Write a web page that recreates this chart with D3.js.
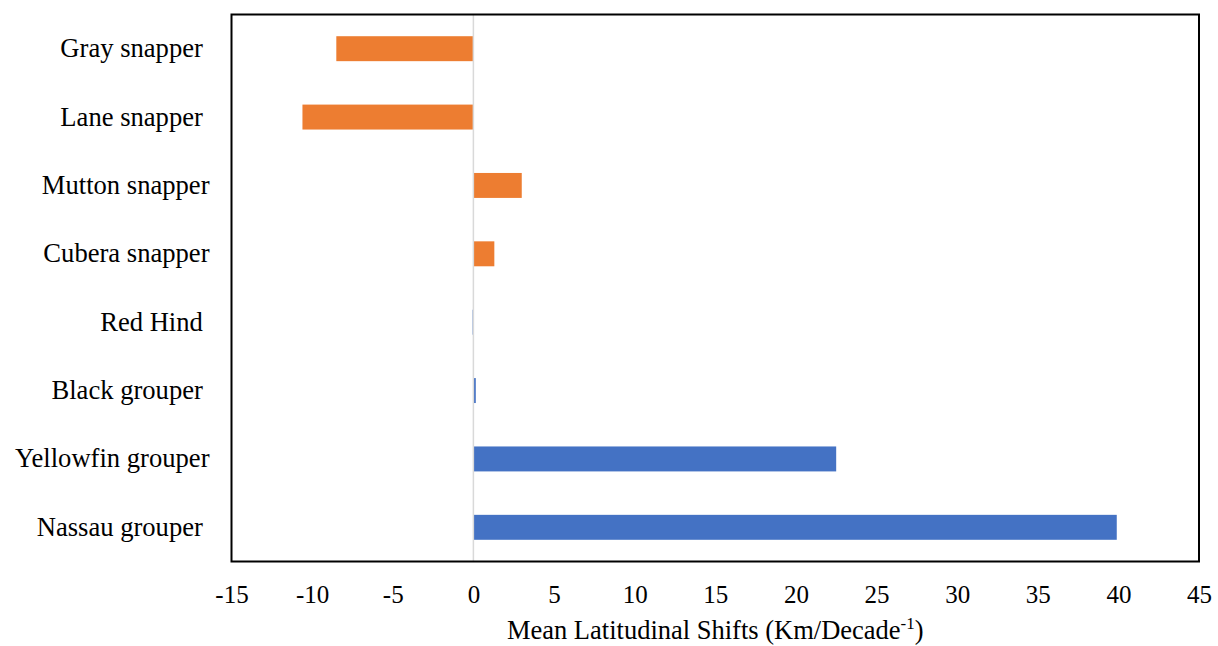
<!DOCTYPE html>
<html>
<head>
<meta charset="utf-8">
<script src="https://cdn.jsdelivr.net/npm/d3@7"></script>
<style>
  html, body { margin: 0; padding: 0; background: #fff; }
  svg text { font-family: "Liberation Serif", "Times New Roman", serif; fill: #000; white-space: pre; }
</style>
</head>
<body>
<svg id="chart" width="1218" height="646"></svg>
<script>
// Species (top to bottom); some Excel labels carry a trailing space
const species = ["Gray snapper ", "Lane snapper ", "Mutton snapper", "Cubera snapper",
                 "Red Hind ", "Black grouper ", "Yellowfin grouper", "Nassau grouper "];
// Mean latitudinal shift (km per decade)
const shifts = [-8.5, -10.6, 3.0, 1.3, -0.05, 0.15, 22.5, 39.9];
// Family of each species: snappers orange, groupers blue
const family = ["snapper", "snapper", "snapper", "snapper", "grouper", "grouper", "grouper", "grouper"];
const xTicks = [-15, -10, -5, 0, 5, 10, 15, 20, 25, 30, 35, 40, 45];
const xTitle = "Mean Latitudinal Shifts (Km/Decade";
const xTitleSup = "-1";

const colors = { snapper: "#ED7D31", grouper: "#4472C4" };

const svg = d3.select("#chart");
const box = { left: 231.5, right: 1199, top: 14.5, bottom: 561.5 };

const x = d3.scaleLinear().domain([-15, 45]).range([box.left, box.right]);
const y = d3.scaleBand().domain(species).range([box.top, box.bottom]).paddingInner(0.635).paddingOuter(0.3175);

// Bars
svg.append("g").selectAll("rect")
  .data(species.map((s, i) => ({ s, v: shifts[i], f: family[i] })))
  .join("rect")
  .attr("x", d => x(Math.min(0, d.v)))
  .attr("width", d => Math.abs(x(d.v) - x(0)))
  .attr("y", d => y(d.s))
  .attr("height", y.bandwidth())
  .attr("fill", d => colors[d.f]);

// Zero reference line
svg.append("line")
  .attr("x1", x(0)).attr("x2", x(0))
  .attr("y1", box.top).attr("y2", box.bottom)
  .attr("stroke", "#d9d9d9").attr("stroke-width", 1.5);

// Plot frame
svg.append("rect")
  .attr("x", box.left).attr("y", box.top)
  .attr("width", box.right - box.left).attr("height", box.bottom - box.top)
  .attr("fill", "none").attr("stroke", "#000").attr("stroke-width", 2);

// Category labels
const yAxis = d3.axisLeft(y).tickSize(0).tickPadding(22);
const gy = svg.append("g").attr("transform", `translate(${box.left},0)`).call(yAxis);
gy.select(".domain").remove();
gy.selectAll("text").attr("font-size", 26.6).attr("font-family", null).attr("dy", "0.32em");

// Value axis labels
const xAxis = d3.axisBottom(x).tickValues(xTicks).tickSize(0).tickPadding(24).tickFormat(d3.format("d"));
const gx = svg.append("g").attr("transform", `translate(0,${box.bottom})`).call(xAxis);
gx.select(".domain").remove();
gx.selectAll("text").attr("font-size", 25).attr("font-family", null).text(d => String(d));

// Axis title with superscript
const title = svg.append("text")
  .attr("x", (box.left + box.right) / 2).attr("y", 639)
  .attr("text-anchor", "middle").attr("font-size", 26.5);
title.append("tspan").text(xTitle);
title.append("tspan").attr("font-size", 17).attr("dy", -10).text(xTitleSup);
title.append("tspan").attr("dy", 10).text(")");
</script>
</body>
</html>
